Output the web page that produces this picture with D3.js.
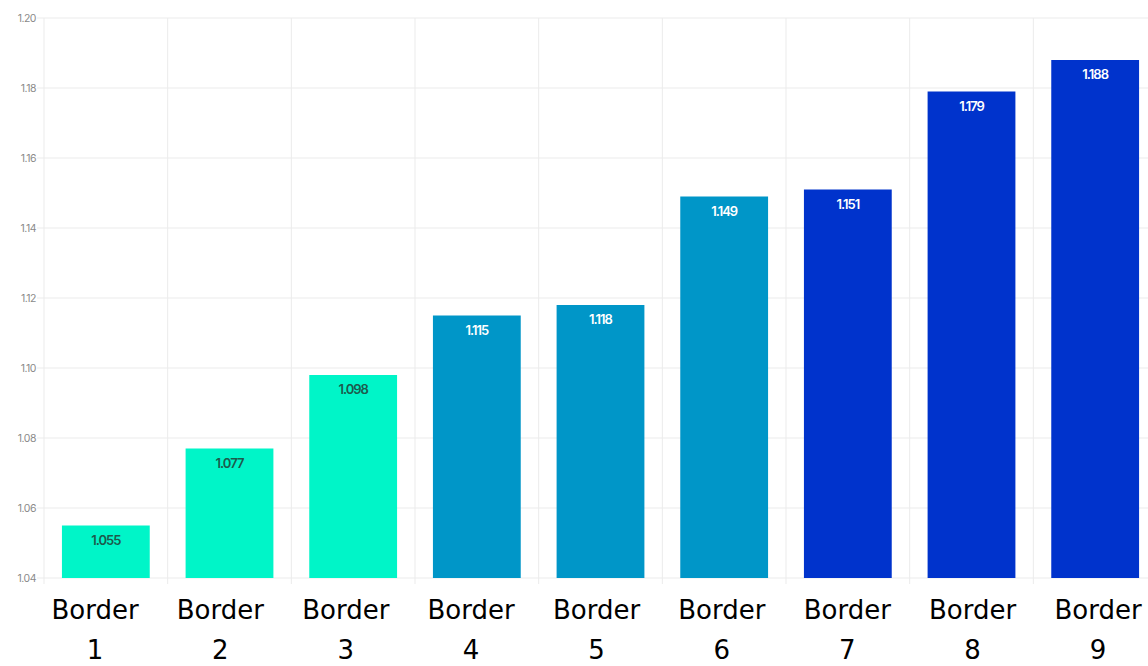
<!DOCTYPE html>
<html>
<head>
<meta charset="utf-8">
<script src="https://cdn.jsdelivr.net/npm/d3@7"></script>
<style>
  html, body { margin: 0; padding: 0; background: #fff; }
  svg { display: block; }
</style>
</head>
<body>
<svg id="chart" width="1148" height="666"></svg>
<script>
// Border categories and their measured ratios
const categories = ["1", "2", "3", "4", "5", "6", "7", "8", "9"];
const values = [1.055, 1.077, 1.098, 1.115, 1.118, 1.149, 1.151, 1.179, 1.188];
const groups = ["low", "low", "low", "mid", "mid", "mid", "high", "high", "high"];
const yTicks = [1.04, 1.06, 1.08, 1.10, 1.12, 1.14, 1.16, 1.18, 1.20];

const fill = { low: "#00f5c8", mid: "#0096c8", high: "#0033cc" };
const labelFill = { low: "#1d5a4c", mid: "#ffffff", high: "#ffffff" };

const svg = d3.select("#chart");

const x = d3.scaleBand()
  .domain(categories)
  .range([44, 1157])
  .paddingInner(0.29)
  .paddingOuter(0.145);

const y = d3.scaleLinear()
  .domain([1.04, 1.20])
  .range([578, 18]);

// category labels sit on their own evenly spaced row
const xLabel = d3.scalePoint()
  .domain(categories)
  .range([95, 1098]);

// horizontal grid
svg.append("g")
  .selectAll("line")
  .data(yTicks)
  .join("line")
  .attr("x1", 37).attr("x2", 1148)
  .attr("y1", d => y(d)).attr("y2", d => y(d))
  .attr("stroke", "#ebebeb")
  .attr("stroke-width", 1);

// vertical grid at band boundaries
const bounds = categories.map(c => x(c) - x.step() * x.paddingInner() / 2);
svg.append("g")
  .selectAll("line")
  .data(bounds)
  .join("line")
  .attr("x1", d => d).attr("x2", d => d)
  .attr("y1", y(1.20)).attr("y2", y(1.04) + 6)
  .attr("stroke", "#ebebeb")
  .attr("stroke-width", 1);

// y axis tick labels
const yAxis = d3.axisLeft(y)
  .tickValues(yTicks)
  .tickFormat(d3.format(".2f"))
  .tickSize(0)
  .tickPadding(0);
const ya = svg.append("g")
  .attr("transform", "translate(36,0)")
  .call(yAxis);
ya.select(".domain").remove();
ya.selectAll("text")
  .attr("font-family", "Inter, 'Noto Sans', sans-serif")
  .attr("font-size", 10.5)
  .attr("letter-spacing", "-0.5px")
  .attr("fill", "#8a8a8a");

// bars
const data = categories.map((c, i) => ({ c, v: values[i], g: groups[i] }));
svg.append("g")
  .selectAll("rect")
  .data(data)
  .join("rect")
  .attr("x", d => x(d.c))
  .attr("width", x.bandwidth())
  .attr("y", d => y(d.v))
  .attr("height", d => y(1.04) - y(d.v))
  .attr("fill", d => fill[d.g]);

// value labels inside bar tops
svg.append("g")
  .selectAll("text")
  .data(data)
  .join("text")
  .attr("x", d => x(d.c) + x.bandwidth() / 2)
  .attr("y", d => y(d.v) + 19)
  .attr("text-anchor", "middle")
  .attr("font-family", "Inter, 'Noto Sans', sans-serif")
  .attr("font-size", 13)
  .attr("font-weight", 600)
  .attr("letter-spacing", "-1px")
  .attr("fill", d => labelFill[d.g])
  .text(d => d3.format(".3f")(d.v));

// category labels, two lines each
const cat = svg.append("g")
  .selectAll("text")
  .data(categories)
  .join("text")
  .attr("text-anchor", "middle")
  .attr("font-family", "'DejaVu Sans', sans-serif")
  .attr("font-size", 26)
  .attr("fill", "#000");
cat.append("tspan")
  .attr("x", d => xLabel(d))
  .attr("y", 619)
  .text("Border");
cat.append("tspan")
  .attr("x", d => xLabel(d))
  .attr("y", 659)
  .text(d => d);
</script>
</body>
</html>
